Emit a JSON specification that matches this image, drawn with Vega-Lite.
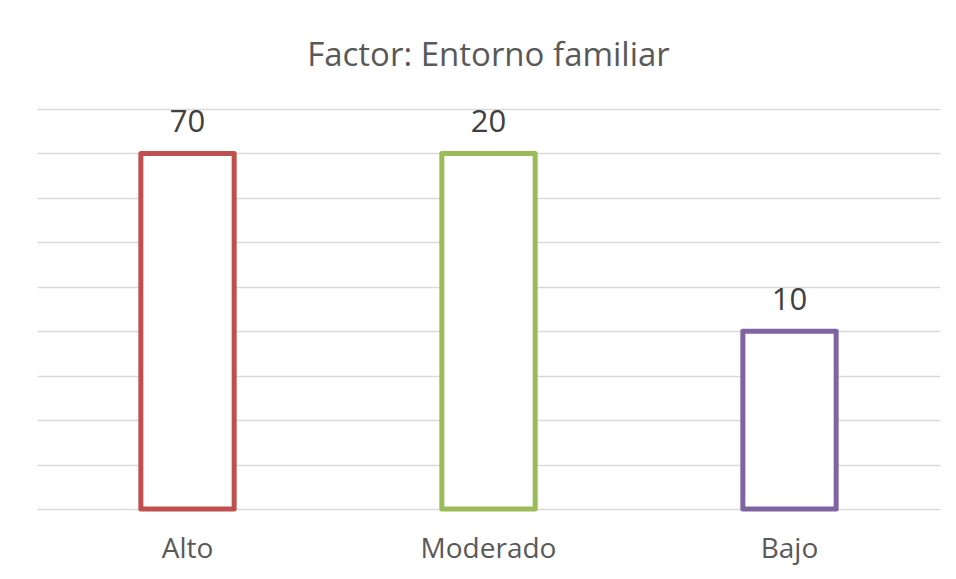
{
  "$schema": "https://vega.github.io/schema/vega-lite/v6.json",
  "width": 903,
  "height": 400,
  "autosize": {"type": "none"},
  "padding": {"left": 37, "top": 109, "right": 16, "bottom": 70},
  "background": "white",
  "title": {
    "text": "Factor: Entorno familiar",
    "font": "Open Sans",
    "fontSize": 33,
    "fontWeight": "normal",
    "color": "#595959",
    "anchor": "middle",
    "offset": 34
  },
  "data": {
    "values": [
      {"nivel": "Alto", "altura": 8, "etiqueta": "70"},
      {"nivel": "Moderado", "altura": 8, "etiqueta": "20"},
      {"nivel": "Bajo", "altura": 4, "etiqueta": "10"}
    ]
  },
  "encoding": {
    "x": {
      "field": "nivel",
      "type": "nominal",
      "sort": ["Alto", "Moderado", "Bajo"],
      "scale": {"paddingInner": 0.69, "paddingOuter": 0.345},
      "axis": {
        "title": null,
        "labelAngle": 0,
        "labelFont": "Open Sans",
        "labelFontSize": 28,
        "labelColor": "#595959",
        "labelPadding": 26,
        "domain": false,
        "ticks": false,
        "grid": false
      }
    },
    "y": {
      "field": "altura",
      "type": "quantitative",
      "scale": {"domain": [0, 9], "nice": false},
      "axis": {
        "title": null,
        "labels": false,
        "ticks": false,
        "domain": false,
        "grid": true,
        "gridColor": "#d9d9d9",
        "gridWidth": 1.5,
        "values": [0, 1, 2, 3, 4, 5, 6, 7, 8, 9]
      }
    }
  },
  "layer": [
    {
      "mark": {"type": "bar", "fill": "white", "strokeWidth": 5, "strokeJoin": "round"},
      "encoding": {
        "stroke": {
          "field": "nivel",
          "type": "nominal",
          "scale": {"domain": ["Alto", "Moderado", "Bajo"], "range": ["#C0504D", "#9BBB59", "#8064A2"]},
          "legend": null
        }
      }
    },
    {
      "mark": {"type": "text", "font": "Open Sans", "fontSize": 31, "color": "#404040", "baseline": "alphabetic", "dy": -21},
      "encoding": {"text": {"field": "etiqueta"}}
    }
  ],
  "config": {"view": {"stroke": null}}
}
